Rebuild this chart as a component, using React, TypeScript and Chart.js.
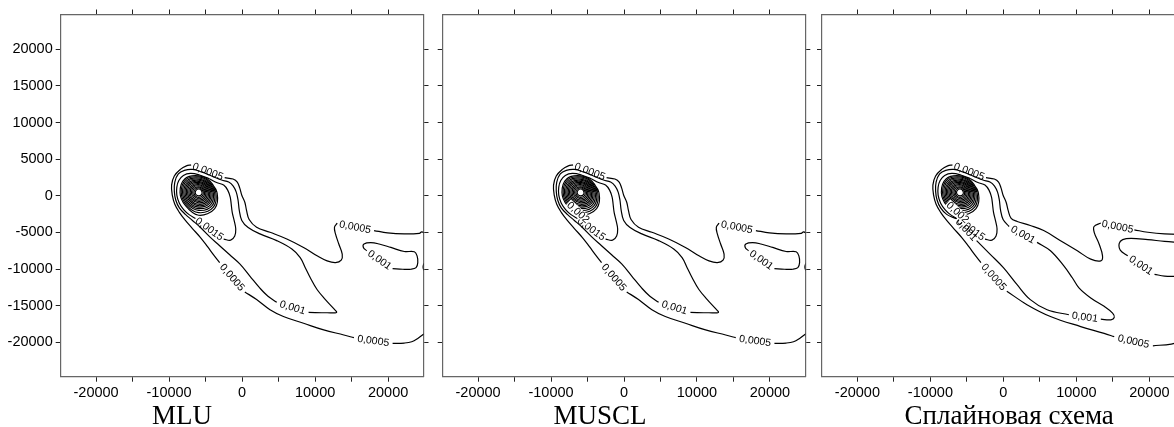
import React, { useEffect, useRef } from "react";
import { Chart, registerables } from "chart.js";
Chart.register(...registerables);

type P = [number, number];
type Label = [number, number, number, string, boolean?];

const X_MIN = -24850, X_MAX = 24850, Y_MIN = -24700, Y_MAX = 24750;
const X_TICKS = [-20000, -15000, -10000, -5000, 0, 5000, 10000, 15000, 20000];
const Y_TICKS = [-20000, -15000, -10000, -5000, 0, 5000, 10000, 15000, 20000];
const X_LABELED = [-20000, -10000, 0, 10000, 20000];
const PANEL_TITLES = ["MLU", "MUSCL", "Сплайновая схема"];

// concentration peak and the nested high-level rings (radii read along E, NE, N, NW, W, SW, S, SE)
const PEAK: P = [-5950, 450];
const DIRS: P[] = [[1, 0], [0.7071, 0.7071], [0, 1], [-0.7071, 0.7071], [-1, 0], [-0.7071, -0.7071], [0, -1], [0.7071, -0.7071]];
const RING_RADII: number[][] = [
  [470, 470, 470, 470, 470, 470, 470, 490],
  [641, 615, 621, 652, 644, 644, 660, 690],
  [812, 760, 772, 834, 818, 818, 850, 890],
  [983, 905, 923, 1016, 992, 992, 1040, 1090],
  [1154, 1050, 1074, 1198, 1166, 1166, 1230, 1290],
  [1325, 1195, 1225, 1380, 1340, 1340, 1420, 1490],
  [1496, 1340, 1376, 1562, 1514, 1514, 1610, 1690],
  [1667, 1485, 1527, 1744, 1688, 1688, 1800, 1890],
  [1838, 1630, 1678, 1926, 1862, 1862, 1990, 2100],
  [2009, 1775, 1829, 2108, 2036, 2036, 2200, 2330],
  [2180, 1920, 1980, 2290, 2210, 2210, 2450, 2580],
  [2351, 2065, 2131, 2472, 2384, 2384, 2750, 2840],
  [2525, 2208, 2277, 2650, 2553, 2553, 3105, 3105],
];

// ---- MLU / MUSCL contours ----
const MLU_C0005: P[][] = [
  [[25200, -5250], [24619, -4927], [24288, -5120], [22218, -5203], [19927, -5065], [18078, -4747]],
  [[13027, -3740], [12655, -4292], [12793, -5203], [13248, -6583], [13717, -7963], [13579, -8791], [12793, -9122], [11647, -8887], [10267, -8197], [8418, -7052], [6127, -5893], [3823, -4982], [1987, -4292], [966, -3229], [607, -1987], [373, -883], [-41, 83], [-317, 1049], [-662, 1877], [-1242, 2291], [-2387, 2470]],
  [[-6983, 4223], [-7631, 4085], [-8459, 3602], [-9287, 2705], [-9660, 1463], [-9563, 83], [-9218, -1159], [-8597, -2263], [-7769, -3367], [-6803, -4471], [-5699, -5713], [-4733, -6955], [-3905, -8059], [-3077, -9122]],
  [[373, -13124], [1987, -14173], [3823, -15553], [5658, -16477], [8418, -17402], [11178, -18313], [13938, -19003], [15318, -19375]],
  [[20617, -20162], [22218, -20107], [23239, -19927], [24067, -19472], [25200, -18650]],
];
const MLU_C001: P[][] = [
  [[9108, -15925], [11647, -15967], [12931, -15925], [12558, -15415], [11413, -14173], [10267, -12793], [9343, -11192], [8653, -9812], [7963, -8432], [6817, -7273], [4747, -6127], [2443, -5203], [828, -4333], [-41, -3367], [-386, -1987], [-552, -607], [-800, 497], [-1214, 1325], [-1835, 1877], [-2801, 2153], [-4181, 2705], [-5561, 3257], [-6803, 3602], [-7907, 3464], [-8735, 2981], [-9218, 1877], [-9287, 635], [-9080, -607], [-8597, -1642], [-7769, -2539], [-6803, -3367], [-5699, -4333], [-4457, -5575], [-3077, -6817], [-1697, -8059], [-317, -9301], [1063, -10957], [2443, -12613], [3547, -13717], [4747, -14545]],
  [[17071, -7507], [16615, -7052], [16698, -6583], [17623, -6403], [18768, -6583], [20383, -7052], [22218, -7604], [23598, -7645], [23971, -8197], [24067, -9122], [23833, -9812], [23143, -10033], [21997, -10033], [20617, -9950]],
  [[25200, -8900], [24840, -9440], [24840, -9990], [25200, -10450]],
];
const MLU_C0015: P[][] = [
  [[-2525, -5920], [-1559, -6058], [-1007, -5506], [-869, -4540], [-1076, -3436], [-1352, -2263], [-1490, -1159], [-1628, -193], [-1973, 773], [-2525, 1463], [-3491, 1808], [-4595, 2360], [-5837, 2843], [-7079, 3050], [-8045, 2774], [-8666, 2084], [-8942, 1187], [-8942, 83], [-8597, -1021], [-7976, -1918], [-7217, -2608], [-6389, -3091]],
];
const MLU_LABELS: Label[] = [
  [-4680, 3340, 21, "0,0005"],
  [15484, -4250, 11, "0,0005"],
  [-1352, -11123, 49, "0,0005"],
  [17968, -19775, 8, "0,0005"],
  [6928, -15235, 17, "0,001"],
  [18851, -8735, 35, "0,001"],
  [-4457, -4513, 36, "0,0015"],
];
const MUSCL_LABELS: Label[] = [...MLU_LABELS, [-6251, -2263, 42, "0,002", true]];

// ---- spline scheme contours ----
const SPL_C0005: P[][] = [
  [[25200, -5300], [22080, -5203], [19789, -4982], [17940, -4651]],
  [[13345, -3712], [12420, -4195], [12448, -5023], [13110, -6583], [13579, -8197], [13345, -8887], [11965, -8653], [10129, -7507], [7825, -6127], [5520, -4747], [3685, -4057], [1891, -3505], [1063, -3091], [649, -1987], [373, -883], [-41, 83], [-317, 1049], [-662, 1877], [-1242, 2291], [-2387, 2470]],
  [[-6983, 4223], [-7631, 4085], [-8459, 3602], [-9287, 2705], [-9660, 1463], [-9563, 83], [-9218, -1159], [-8597, -2263], [-7769, -3367], [-6803, -4471], [-5699, -5713], [-4733, -6955], [-3905, -8059], [-3077, -9122]],
  [[469, -13027], [3229, -14863], [6445, -16477], [10585, -17857], [13800, -18782], [15180, -19237]],
  [[20479, -20479], [23005, -20245], [23971, -19927], [25200, -19300]],
];
const SPL_C001: P[][] = [
  [[8970, -16243], [5989, -15553], [3685, -14173], [1849, -12103], [0, -9812], [-1835, -7963], [-3671, -6127]],
  [[-6431, -3133], [-7769, -2539], [-8597, -1642], [-9080, -607], [-9287, 635], [-9218, 1877], [-8735, 2981], [-7907, 3464], [-6803, 3602], [-5561, 3257], [-4181, 2705], [-2801, 2153], [-1835, 1877], [-1214, 1325], [-800, 497], [-552, -607], [-386, -1987], [-41, -3229], [787, -4195]],
  [[4609, -6362], [6445, -7507], [8280, -9577], [9439, -11192], [10350, -12572], [11965, -13952], [13800, -15097], [14959, -16022], [15180, -16615], [14725, -16933], [13345, -16850]],
  [[25200, -6450], [23929, -6362], [22080, -6224], [19789, -5989], [17485, -5810], [16339, -5989], [15870, -6500], [16008, -7411], [17029, -8197]],
  [[20700, -10723], [22080, -10957], [23557, -10999], [25200, -11050]],
];
const SPL_LABELS: Label[] = [
  [-4680, 3340, 21, "0,0005"],
  [15649, -4181, 11.5, "0,0005"],
  [-1297, -11081, 48, "0,0005"],
  [17830, -19858, 13, "0,0005"],
  [2705, -5285, 29.5, "0,001"],
  [11164, -16546, 8, "0,001"],
  [18865, -9467, 34.5, "0,001"],
  [-5051, -4609, 47, "0,001"],
  [-4457, -4513, 36, "0,0015"],
  [-6251, -2263, 42, "0,002", true],
];

const PANEL_CONTOURS: P[][][] = [
  [...MLU_C0005, ...MLU_C001, ...MLU_C0015],
  [...MLU_C0005, ...MLU_C001, ...MLU_C0015],
  [...SPL_C0005, ...SPL_C001, ...MLU_C0015],
];
const PANEL_LABELS: Label[][] = [MLU_LABELS, MUSCL_LABELS, SPL_LABELS];

const LAYOUT = [
  { left: 0, w: 432, leftW: 60.7, rightW: 8.5, titleX: 182, yLabels: true },
  { left: 432, w: 382, leftW: 10.7, rightW: 8.7, titleX: 168, yLabels: false },
  { left: 814, w: 380, leftW: 8, rightW: 9.2, titleX: 195.2, yLabels: false },
];
const H = 427, TOP_H = 14.5, BOTTOM_H = 427 - 376.7;
const SANS = '"Liberation Sans", Arial, sans-serif';

function ringSegments(): P[][] {
  return RING_RADII.map((row) => {
    const pts = row.map((r, i) => [PEAK[0] + DIRS[i][0] * r, PEAK[1] + DIRS[i][1] * r] as P);
    return [...pts, pts[0], pts[1]];
  });
}

function hAxis(position: string, labels: boolean, size: number) {
  return {
    type: "linear", position, min: X_MIN, max: X_MAX,
    afterBuildTicks: (s: any) => { s.ticks = X_TICKS.map((v) => ({ value: v })); },
    afterFit: (s: any) => { s.height = size; },
    ticks: {
      display: true, autoSkip: false, maxRotation: 0, minRotation: 0, padding: 3, color: "#000",
      font: { family: SANS, size: 14.5 },
      callback: (v: any) => (labels && X_LABELED.includes(v) ? String(v) : ""),
    },
    grid: { display: true, drawOnChartArea: false, drawTicks: true, tickLength: 5, color: "#222", lineWidth: 1 },
    border: { display: true, color: "#666", width: 1.2 },
  };
}
function vAxis(position: string, labels: boolean, size: number) {
  return {
    type: "linear", position, min: Y_MIN, max: Y_MAX,
    afterBuildTicks: (s: any) => { s.ticks = Y_TICKS.map((v) => ({ value: v })); },
    afterFit: (s: any) => { s.width = size; },
    ticks: {
      display: true, autoSkip: false, padding: 3, color: "#000",
      font: { family: SANS, size: 14.5 },
      callback: (v: any) => (labels ? String(v) : ""),
    },
    grid: { display: true, drawOnChartArea: false, drawTicks: true, tickLength: 5, color: "#222", lineWidth: 1 },
    border: { display: true, color: "#666", width: 1.2 },
  };
}

function makeChart(canvas: HTMLCanvasElement, idx: number) {
  const lay = LAYOUT[idx];
  const segs = [...ringSegments(), ...PANEL_CONTOURS[idx]];
  const datasets = segs.map((seg, k) => ({
    data: seg.map(([x, y]) => ({ x, y })),
    showLine: true,
    borderColor: "#000",
    borderWidth: k < RING_RADII.length ? 1.15 : 1.2,
    pointRadius: 0,
    tension: 0.38,
    fill: false,
  }));
  const labels = PANEL_LABELS[idx];
  const title = PANEL_TITLES[idx];
  const labelPlugin = {
    id: "contourLabels" + idx,
    afterDatasetsDraw(chart: any) {
      const { ctx, scales } = chart;
      const xs = scales.x, ys = scales.y;
      const area = chart.chartArea;
      ctx.save();
      ctx.beginPath();
      ctx.rect(area.left, area.top, area.right - area.left, area.bottom - area.top);
      ctx.clip();
      ctx.font = "10.5px " + SANS;
      ctx.textAlign = "center";
      ctx.textBaseline = "middle";
      for (const [lx, ly, ang, txt, knock] of labels) {
        const px = xs.getPixelForValue(lx), py = ys.getPixelForValue(ly);
        ctx.save();
        ctx.translate(px, py);
        ctx.rotate((ang * Math.PI) / 180);
        if (knock) {
          const w = ctx.measureText(txt).width;
          ctx.fillStyle = "#fff";
          ctx.fillRect(-w / 2 - 1, -4.5, w + 2, 9);
        }
        ctx.fillStyle = "#000";
        ctx.fillText(txt, 0, 0.5);
        ctx.restore();
      }
      ctx.restore();
      ctx.save();
      ctx.font = '27px "Liberation Serif", "Times New Roman", serif';
      ctx.fillStyle = "#000";
      ctx.textAlign = "center";
      ctx.textBaseline = "alphabetic";
      ctx.fillText(title, lay.titleX, 424);
      ctx.restore();
    },
  };
  return new Chart(canvas, {
    type: "scatter",
    data: { datasets } as any,
    options: {
      responsive: false,
      maintainAspectRatio: false,
      animation: false,
      events: [],
      layout: { padding: 0 },
      plugins: { legend: { display: false }, tooltip: { enabled: false }, title: { display: false } },
      scales: {
        x: hAxis("bottom", true, BOTTOM_H),
        x2: hAxis("top", false, TOP_H),
        y: vAxis("left", lay.yLabels, lay.leftW),
        y2: vAxis("right", false, lay.rightW),
      } as any,
    },
    plugins: [labelPlugin],
  } as any);
}

export default function App() {
  const refs = useRef<(HTMLCanvasElement | null)[]>([]);
  useEffect(() => {
    document.body.style.margin = "0";
    document.body.style.overflow = "hidden";
    const charts = LAYOUT.map((_, i) => makeChart(refs.current[i] as HTMLCanvasElement, i));
    return () => charts.forEach((c) => c.destroy());
  }, []);
  return (
    <div style={{ position: "relative", width: 1174, height: H, overflow: "hidden", background: "#fff" }}>
      {LAYOUT.map((l, i) => (
        <canvas
          key={i}
          ref={(el) => { refs.current[i] = el; }}
          width={l.w}
          height={H}
          style={{ position: "absolute", left: l.left, top: 0, width: l.w, height: H }}
        />
      ))}
    </div>
  );
}
